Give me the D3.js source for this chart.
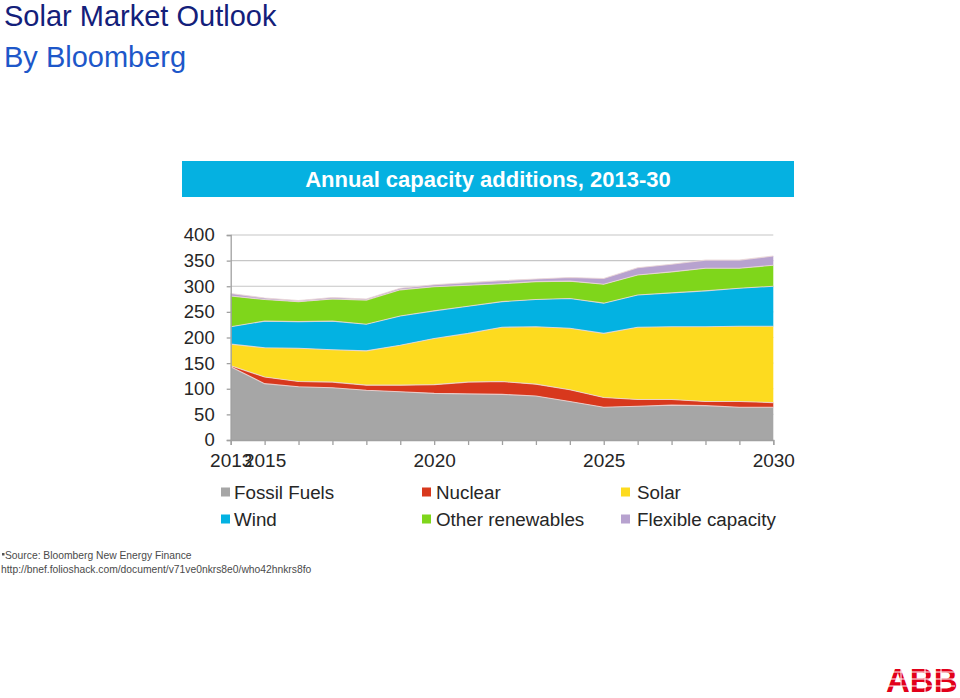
<!DOCTYPE html>
<html>
<head>
<meta charset="utf-8">
<script src="https://cdn.jsdelivr.net/npm/d3@7"></script>
<style>
  html, body { margin: 0; padding: 0; background: #fff; }
  svg { display: block; font-family: "Liberation Sans", Arial, sans-serif; }
</style>
</head>
<body>
<svg id="chart" width="960" height="698"></svg>
<script>
// ---- Data ----
const years = ["2013","2015","2016","2017","2018","2019","2020","2021","2022","2023","2024","2025","2026","2027","2028","2029","2030"];
const xTickLabels = ["2013","2015","2020","2025","2030"];
const yTicks = [0,50,100,150,200,250,300,350,400];
const seriesNames = ["Fossil Fuels","Nuclear","Solar","Wind","Other renewables","Flexible capacity"];
const fossilFuels     = [143,110,104,102, 97, 94, 91, 90, 89, 86, 75, 64, 66, 68, 67, 64, 64];
const nuclear         = [  2, 13, 10, 11, 10, 13, 17, 23, 25, 23, 23, 19, 13, 11,  8, 11,  9];
const solar           = [ 42, 57, 65, 63, 67, 78, 90, 95,106,112,120,125,141,142,146,147,149];
const wind            = [ 34, 52, 52, 56, 52, 57, 54, 53, 50, 53, 58, 59, 63, 66, 70, 74, 78];
const otherRenewables = [ 60, 42, 39, 43, 47, 51, 47, 41, 35, 35, 34, 37, 39, 41, 44, 39, 41];
const flexible        = [  5,  3,  2,  3,  2,  3,  4,  5,  6,  5,  7, 11, 14, 15, 16, 16, 18];

const colors = ["#a6a6a6","#d8381d","#fddb1f","#03b2e2","#7fd61b","#b7a2cf"];

// build table
const table = years.map((yr, i) => ({
  year: yr,
  "Fossil Fuels": fossilFuels[i],
  "Nuclear": nuclear[i],
  "Solar": solar[i],
  "Wind": wind[i],
  "Other renewables": otherRenewables[i],
  "Flexible capacity": flexible[i]
}));

const svg = d3.select("#chart");

// ---- Page titles ----
svg.append("text").attr("x", 4).attr("y", 26)
  .attr("font-size", 29).attr("fill", "#13207a").text("Solar Market Outlook");
svg.append("text").attr("x", 4).attr("y", 67)
  .attr("font-size", 29).attr("fill", "#1d57c9").text("By Bloomberg");

// ---- Chart title band ----
svg.append("rect").attr("x", 182).attr("y", 161).attr("width", 612).attr("height", 36)
  .attr("fill", "#05b1e1");
svg.append("text").attr("x", 488).attr("y", 187).attr("text-anchor", "middle")
  .attr("font-size", 22).attr("font-weight", "bold").attr("fill", "#fff")
  .text("Annual capacity additions, 2013-30");

// ---- Scales ----
const x = d3.scalePoint().domain(years).range([230.7, 773.3]);
const y = d3.scaleLinear().domain([0, 400]).range([440, 235]);

// gridlines
svg.append("g").selectAll("line").data(yTicks.filter(d => d > 0)).join("line")
  .attr("x1", x.range()[0]).attr("x2", x.range()[1])
  .attr("y1", d => y(d)).attr("y2", d => y(d))
  .attr("stroke", "#c6c6c6").attr("stroke-width", 1.2);

// ---- Stacked areas ----
const stack = d3.stack().keys(seriesNames);
const layers = stack(table);
const area = d3.area()
  .x(d => x(d.data.year))
  .y0(d => y(d[0]))
  .y1(d => y(d[1]));
const topLine = d3.line()
  .x(d => x(d.data.year))
  .y(d => y(d[1]));

svg.append("g").selectAll("path").data(layers).join("path")
  .attr("d", area)
  .attr("fill", (d, i) => colors[i]);
svg.append("g").selectAll("path").data(layers).join("path")
  .attr("d", topLine)
  .attr("fill", "none")
  .attr("stroke", "rgba(235,215,215,0.85)")
  .attr("stroke-width", 1.1);

// ---- Axes ----
const yAxis = d3.axisLeft(y).tickValues(yTicks).tickSize(4).tickPadding(12);
const gy = svg.append("g").attr("transform", `translate(${x.range()[0]},0)`).call(yAxis);
gy.select(".domain").attr("stroke", "#a0a0a0").attr("stroke-width", 1.3);
gy.selectAll(".tick line").attr("stroke", "#a0a0a0").attr("stroke-width", 1.3);
gy.selectAll(".tick text").attr("font-size", 18.5).attr("fill", "#262626")
  .attr("font-family", "Liberation Sans, Arial, sans-serif");

const xAxis = d3.axisBottom(x).tickSize(5).tickPadding(9)
  .tickFormat(d => xTickLabels.includes(d) ? d : "");
const gx = svg.append("g").attr("transform", `translate(0,${y(0)})`).call(xAxis);
gx.select(".domain").attr("stroke", "#a0a0a0").attr("stroke-width", 1.3);
gx.selectAll(".tick line").attr("stroke", "#a0a0a0").attr("stroke-width", 1.3);
gx.selectAll(".tick text").attr("font-size", 19).attr("fill", "#262626")
  .attr("font-family", "Liberation Sans, Arial, sans-serif");

// ---- Legend ----
const legendPos = [
  {sx: 221, tx: 234, cy: 492},
  {sx: 422, tx: 436, cy: 492},
  {sx: 621, tx: 637, cy: 492},
  {sx: 221, tx: 234, cy: 519},
  {sx: 422, tx: 436, cy: 519},
  {sx: 621, tx: 637, cy: 519}
];
const lg = svg.append("g").selectAll("g").data(seriesNames).join("g");
lg.append("rect")
  .attr("x", (d, i) => legendPos[i].sx).attr("y", (d, i) => legendPos[i].cy - 4.5)
  .attr("width", 9).attr("height", 9).attr("fill", (d, i) => colors[i]);
lg.append("text")
  .attr("x", (d, i) => legendPos[i].tx).attr("y", (d, i) => legendPos[i].cy + 6.5)
  .attr("font-size", 18.8).attr("fill", "#262626").text(d => d);

// ---- Source ----
svg.append("rect").attr("x", 2).attr("y", 553).attr("width", 2.5).attr("height", 2.5).attr("fill", "#555");
svg.append("text").attr("x", 5).attr("y", 559).attr("font-size", 10.3).attr("fill", "#4a4a4a")
  .text("Source: Bloomberg New Energy Finance");
svg.append("text").attr("x", 1).attr("y", 573).attr("font-size", 10.3).attr("fill", "#4a4a4a")
  .text("http://bnef.folioshack.com/document/v71ve0nkrs8e0/who42hnkrs8fo");

// ---- ABB logo ----
const logo = svg.append("g");
logo.append("text").attr("x", 886).attr("y", 692)
  .attr("font-size", 33).attr("font-weight", "bold").attr("fill", "#e2001a")
  .text("ABB");
[672, 679, 686].forEach(yy => {
  logo.append("line").attr("x1", 886).attr("x2", 955).attr("y1", yy).attr("y2", yy)
    .attr("stroke", "#fff").attr("stroke-width", 1);
});
[901, 910, 925, 941].forEach(xx => {
  logo.append("line").attr("x1", xx).attr("x2", xx).attr("y1", 666).attr("y2", 693)
    .attr("stroke", "#fff").attr("stroke-width", 1);
});
</script>
</body>
</html>
